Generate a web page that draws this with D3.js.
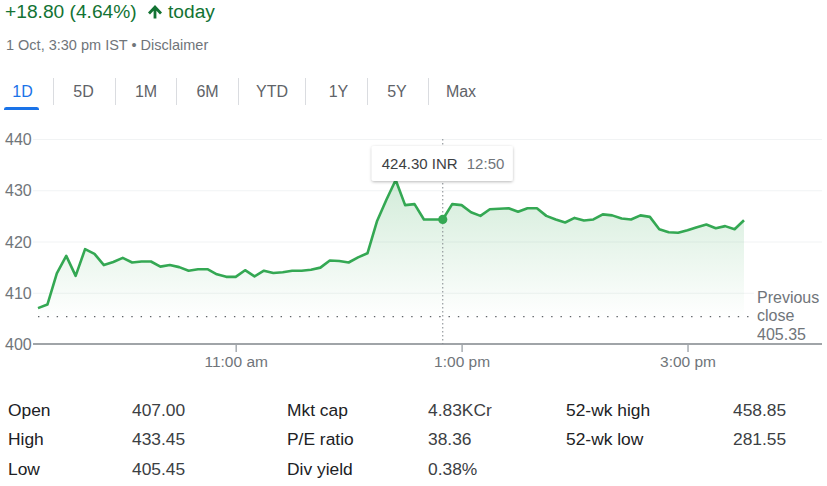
<!DOCTYPE html>
<html>
<head>
<meta charset="utf-8">
<script src="https://cdn.jsdelivr.net/npm/d3@7"></script>
<style>
  html, body { margin: 0; padding: 0; background: #fff; }
  svg { display: block; font-family: "Liberation Sans", Arial, sans-serif; }
</style>
</head>
<body>
<svg id="chart" width="827" height="486"></svg>
<script>
// ---------- data ----------
const sessionStart = "09:15";
const intervalMinutes = 5;
const prices = [
  407.0, 407.7, 413.8, 417.2, 413.3, 418.5, 417.6, 415.4, 416.0, 416.8,
  415.9, 416.1, 416.1, 415.1, 415.4, 415.0, 414.3, 414.6, 414.6, 413.6,
  413.1, 413.1, 414.4, 413.2, 414.3, 413.85, 414.0, 414.3, 414.3, 414.5,
  414.9, 416.3, 416.2, 415.9, 416.9, 417.7, 423.9, 428.1, 432.0, 427.1,
  427.3, 424.3, 424.3, 424.3, 427.3, 427.1, 425.7, 425.0, 426.3, 426.4,
  426.5, 425.8, 426.5, 426.5, 425.0, 424.3, 423.7, 424.6, 424.1, 424.3,
  425.3, 425.1, 424.5, 424.3, 425.1, 424.8, 422.4, 421.8, 421.7, 422.2,
  422.8, 423.3, 422.6, 423.0, 422.4, 424.15
];
const previousClose = 405.35;
const yTicks = [400, 410, 420, 430, 440];
const xTickTimes = ["11:00", "13:00", "15:00"];
const xTickLabels = ["11:00 am", "1:00 pm", "3:00 pm"];
const hoverTime = "12:50";
const hoverLabel = "424.30 INR";
const tabs = ["1D", "5D", "1M", "6M", "YTD", "1Y", "5Y", "Max"];
const statLabels1 = ["Open", "High", "Low"];
const statValues1 = ["407.00", "433.45", "405.45"];
const statLabels2 = ["Mkt cap", "P/E ratio", "Div yield"];
const statValues2 = ["4.83KCr", "38.36", "0.38%"];
const statLabels3 = ["52-wk high", "52-wk low"];
const statValues3 = ["458.85", "281.55"];

// ---------- helpers ----------
const parseT = d3.timeParse("%H:%M");
const t0 = parseT(sessionStart);
const series = prices.map((v, i) => ({ t: d3.timeMinute.offset(t0, i * intervalMinutes), v }));

const svg = d3.select("#chart");
const green = "#34a853";
const gray = "#70757a";
const dark = "#202124";

// ---------- header ----------
svg.append("text").attr("x", 5).attr("y", 18).attr("font-size", 19.2).attr("fill", "#137333")
  .text("+18.80 (4.64%)");
svg.append("path").attr("fill", "#137333")
  .attr("d", "M148,12.5 L155,5 L162,12.5 L160,14.4 L156.4,10.8 L156.4,18.5 L153.6,18.5 L153.6,10.8 L150,14.4 Z");
svg.append("text").attr("x", 168).attr("y", 18).attr("font-size", 19.2).attr("fill", "#137333")
  .text("today");
svg.append("text").attr("x", 6).attr("y", 50).attr("font-size", 14.5).attr("fill", gray)
  .text("1 Oct, 3:30 pm IST • Disclaimer");

// ---------- tabs ----------
const tabCenters = [22.5, 83.5, 146, 207.5, 272, 338.5, 397, 461];
const tabSeps = [53, 115, 176, 238, 305, 367, 428];
svg.append("g").selectAll("text").data(tabs).join("text")
  .attr("x", (d, i) => tabCenters[i]).attr("y", 97).attr("text-anchor", "middle")
  .attr("font-size", 16).attr("fill", (d, i) => i === 0 ? "#1a73e8" : "#5f6368")
  .text(d => d);
svg.append("g").selectAll("line").data(tabSeps).join("line")
  .attr("x1", d => d + 0.5).attr("x2", d => d + 0.5).attr("y1", 78).attr("y2", 105)
  .attr("stroke", "#dadce0").attr("stroke-width", 1);
svg.append("path").attr("fill", "#1a73e8")
  .attr("d", "M4,110 L4,109 Q4,107 6.5,107 L36.5,107 Q39,107 39,109 L39,110 Z");

// ---------- scales ----------
const plotLeft = 33, plotRight = 822;
const x = d3.scaleTime()
  .domain([t0, parseT("15:30")])
  .range([38, 744]);
const y = d3.scaleLinear().domain([400, 440]).range([344, 139]);

// gridlines
svg.append("g").selectAll("line").data(yTicks.filter(d => d !== 400)).join("line")
  .attr("x1", plotLeft).attr("x2", plotRight)
  .attr("y1", d => y(d) + 0.5).attr("y2", d => y(d) + 0.5)
  .attr("stroke", "#f1f3f4").attr("stroke-width", 1);

// y labels
svg.append("g").selectAll("text").data(yTicks).join("text")
  .attr("x", 5).attr("y", d => y(d) + 6).attr("font-size", 16).attr("fill", gray)
  .text(d => d);

// area gradient
const defs = svg.append("defs");
const grad = defs.append("linearGradient").attr("id", "areaGrad")
  .attr("gradientUnits", "userSpaceOnUse")
  .attr("x1", 0).attr("x2", 0).attr("y1", y(432)).attr("y2", y(405));
grad.append("stop").attr("offset", "0%").attr("stop-color", green).attr("stop-opacity", 0.22);
grad.append("stop").attr("offset", "100%").attr("stop-color", green).attr("stop-opacity", 0);

const shadow = defs.append("filter").attr("id", "shadow")
  .attr("x", "-20%").attr("y", "-40%").attr("width", "140%").attr("height", "180%");
shadow.append("feDropShadow").attr("dx", 0).attr("dy", 1).attr("stdDeviation", 1.6)
  .attr("flood-color", "#000").attr("flood-opacity", 0.28);

svg.append("path").datum(series)
  .attr("fill", "url(#areaGrad)")
  .attr("d", d3.area().x(d => x(d.t)).y0(y(400)).y1(d => y(d.v)));

// previous close dotted line
svg.append("line")
  .attr("x1", plotLeft + 5).attr("x2", 752)
  .attr("y1", y(previousClose)).attr("y2", y(previousClose))
  .attr("stroke", "#5f6368").attr("stroke-width", 1.3)
  .attr("stroke-dasharray", "1.4,7.93");

// x axis
const xAxis = d3.axisBottom(x)
  .tickValues(xTickTimes.map(parseT))
  .tickFormat((d, i) => xTickLabels[i])
  .tickSize(8).tickSizeOuter(0);
const gx = svg.append("g").attr("transform", `translate(0,${y(400)})`).call(xAxis);
gx.select(".domain").remove();
gx.selectAll(".tick line").attr("stroke", "#9aa0a6").attr("stroke-width", 1.3);
gx.selectAll(".tick text").attr("fill", gray).attr("font-size", 15.5)
  .attr("font-family", "'Liberation Sans', Arial, sans-serif").attr("dy", "0").attr("y", 22.5);
svg.append("line").attr("x1", plotLeft).attr("x2", plotRight)
  .attr("y1", y(400)).attr("y2", y(400))
  .attr("stroke", "#a0a4a8").attr("stroke-width", 2);

// hover crosshair
const hx = x(parseT(hoverTime));
svg.append("line").attr("x1", hx).attr("x2", hx).attr("y1", y(440)).attr("y2", y(400))
  .attr("stroke", "#80868b").attr("stroke-width", 1).attr("stroke-dasharray", "1.5,2.5");

// line
svg.append("path").datum(series)
  .attr("fill", "none").attr("stroke", green).attr("stroke-width", 2.6)
  .attr("stroke-linejoin", "round")
  .attr("d", d3.line().x(d => x(d.t)).y(d => y(d.v)));

// hover marker
const hoverPoint = series.find(d => d3.timeFormat("%H:%M")(d.t) === hoverTime);
svg.append("circle").attr("cx", hx).attr("cy", y(hoverPoint.v)).attr("r", 4.6).attr("fill", green);

// tooltip
const tip = svg.append("g").attr("transform", `translate(${hx - 71},146)`);
tip.append("rect").attr("width", 141).attr("height", 35).attr("rx", 2)
  .attr("fill", "#fff").attr("filter", "url(#shadow)");
tip.append("text").attr("x", 10).attr("y", 23).attr("font-size", 15).attr("fill", "#3c4043")
  .text(hoverLabel);
tip.append("text").attr("x", 95).attr("y", 23).attr("font-size", 15).attr("fill", gray)
  .text(hoverTime);

// previous close label
const pc = svg.append("g");
pc.append("rect").attr("x", 754).attr("y", 287).attr("width", 73).attr("height", 55).attr("fill", "#fff");
["Previous", "close", d3.format(".2f")(previousClose)].forEach((t, i) => {
  pc.append("text").attr("x", 757).attr("y", 302.5 + i * 18.6).attr("font-size", 16)
    .attr("fill", gray).text(t);
});

// ---------- stats ----------
const rowY = [416, 445, 474.5];
function statCol(labels, values, lx, vx) {
  const g = svg.append("g").attr("font-size", 17.4);
  labels.forEach((l, i) => {
    g.append("text").attr("x", lx).attr("y", rowY[i]).attr("fill", dark).text(l);
    g.append("text").attr("x", vx).attr("y", rowY[i]).attr("fill", "#3c4043").text(values[i]);
  });
}
statCol(statLabels1, statValues1, 8, 132);
statCol(statLabels2, statValues2, 287, 428);
statCol(statLabels3, statValues3, 566, 733);
</script>
</body>
</html>
